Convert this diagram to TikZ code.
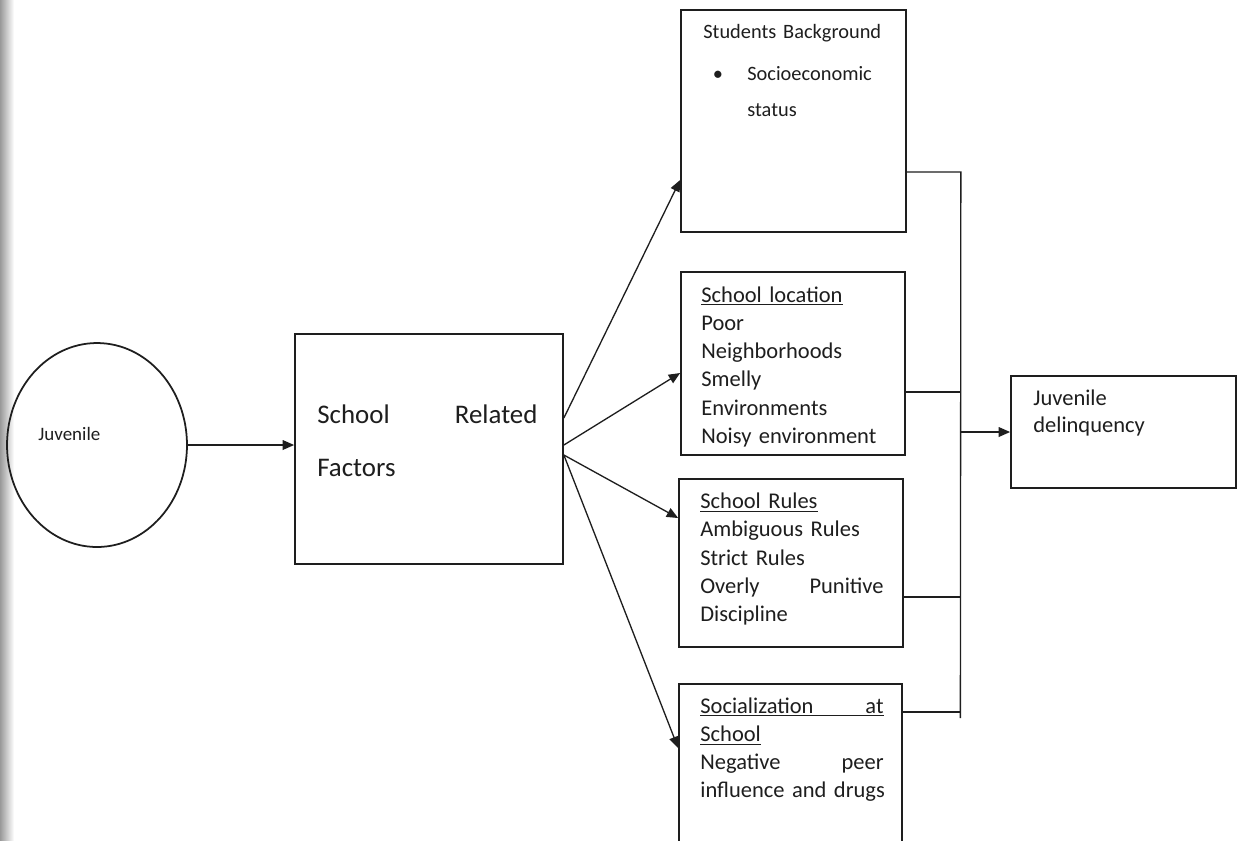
\documentclass[tikz,border=0pt]{standalone}
\usepackage{fontspec}
\setmainfont{Carlito}
\usetikzlibrary{shapes.geometric,arrows.meta,calc}
\definecolor{ink}{HTML}{1E1E1E}
\newcommand{\jline}[1]{\makebox[104.3pt][l]{#1}}
\begin{document}
\begin{tikzpicture}[x=0.02cm,y=-0.02cm,
  box/.style={draw=ink,line width=1pt,rectangle,inner sep=0pt,anchor=center},
  conn/.style={draw=ink,line width=0.75pt},
  arr/.style={conn,-{Triangle[length=6.5pt,width=5.5pt]}},
  txt/.style={anchor=base west,inner sep=0pt,align=left,text=ink,text width=120pt},
  body/.style={txt,font=\fontsize{12.8}{16.1}\selectfont},
]
\clip (0,0) rectangle (1237,840);
\fill[white] (0,0) rectangle (1237,840);
\shade[left color=black!40,right color=white] (0,0) rectangle (14,840);

% Juvenile
\node[box,ellipse,minimum width=3.6cm,minimum height=4.08cm] (juv) at (97,445) {};
\node[txt,font=\fontsize{10.8}{13}\selectfont] (juvt) at (38,440) {Juvenile};

% School Related Factors
\node[box,minimum width=5.36cm,minimum height=4.6cm] (srf) at (429,449) {};
\node[txt,text width=140pt,font=\fontsize{15.3}{30.6}\selectfont] (srft) at (317,423) {\makebox[125.3pt][l]{School\hfill Related}\\Factors};

% Students Background
\node[box,minimum width=4.5cm,minimum height=4.44cm] (sb) at (793.5,121) {};
\node[txt,font=\fontsize{11.6}{14}\selectfont] (sbt) at (703,38.5) {Students Background};
\node[txt,text width=,anchor=base,font=\fontsize{11.6}{14}\selectfont] (sbb) at (718,80) {\textbullet};
\node[txt,text width=90pt,font=\fontsize{11.6}{21}\selectfont] (sbs) at (747,80) {Socioeconomic\\status};

% School location
\node[box,minimum width=4.48cm,minimum height=3.66cm] (sl) at (793,363.5) {};
\node[body] (slt) at (701,302) {\underline{School location}\\Poor\\Neighborhoods\\Smelly\\Environments\\Noisy environment};

% School Rules
\node[box,minimum width=4.48cm,minimum height=3.36cm] (sr) at (791,563) {};
\node[body] (srt) at (700,508.5) {\underline{School Rules}\\Ambiguous Rules\\Strict Rules\\\jline{Overly\hfill Punitive}\\Discipline};

% Socialization at School
\node[box,minimum width=4.46cm,minimum height=3.6cm] (ss) at (790.5,774) {};
\node[body] (sst) at (700,713) {\underline{\jline{Socialization\hfill at}}\\\underline{School}\\\jline{Negative\hfill peer}\\influence and drugs};

% Juvenile delinquency
\node[box,minimum width=4.5cm,minimum height=2.24cm] (jd) at (1123.5,432) {};
\node[txt,font=\fontsize{12.8}{15.9}\selectfont] (jdt) at (1033,405) {Juvenile\\delinquency};

% connectors
\draw[arr] (juv.east) -- (juv.east -| srf.west);

\coordinate (s1) at ($(srf.east)+(0,-31)$);
\coordinate (s2) at ($(srf.east)+(0,-4)$);
\coordinate (s3) at ($(srf.east)+(0,6)$);
\draw[arr] (s1) -- ($(sb.west)+(0,59)$);
\draw[arr] (s2) -- ($(sl.west)+(0,9.5)$);
\draw[arr] (s3) -- ($(sr.west)+(0,-45)$);
\draw[arr] (s3) -- ($(ss.west)+(0,-26)$);

\coordinate (o1) at ($(sb.east)+(0,51)$);
\coordinate (o2) at ($(sl.east)+(0,28.5)$);
\coordinate (o3) at ($(sr.east)+(0,34)$);
\coordinate (o4) at ($(ss.east)+(0,-62)$);
\coordinate (bt) at ($(o1)+(54,0)$);
\coordinate (bb) at ($(ss.east)+(57.5,-56)$);
\draw[conn] (o1) -- (bt) -- (bb);
\draw[conn] (o2) -- (o2 -| bt);
\draw[conn] (o3) -- (o3 -| bt);
\draw[conn] (o4) -- (o4 -| bt);
\draw[arr] (bt |- jd.west) -- (jd.west);
\end{tikzpicture}
\end{document}
